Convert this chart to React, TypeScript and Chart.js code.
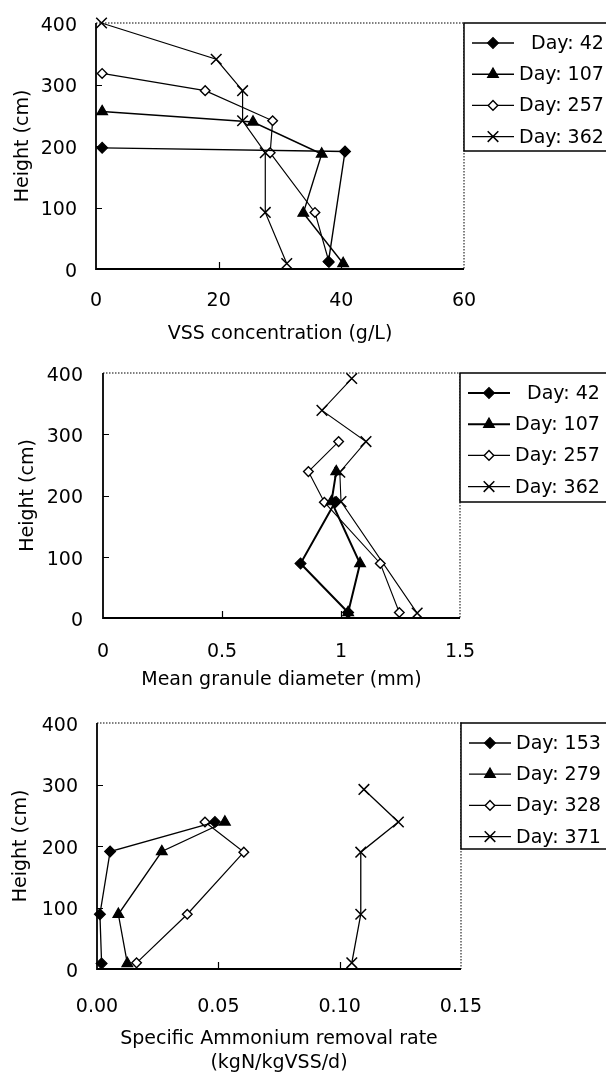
import React, { useEffect, useRef } from "react";
import { Chart, registerables } from "chart.js";
import { drawPoint } from "chart.js/helpers";

Chart.register(...registerables);

const FONT_FAMILY = "'DejaVu Sans', 'Liberation Sans', sans-serif";
const FONT_SIZE = 19;

// ---------- shared ----------
const heightTicks = [0, 100, 200, 300, 400];

// ---------- panel 1: VSS concentration ----------
const vssLabels = ["Day: 42", "Day: 107", "Day: 257", "Day: 362"];
const vssDay42X = [1.0, 40.6, 37.9];
const vssDay42H = [197, 191, 12];
const vssDay107X = [1.0, 25.6, 36.8, 33.8, 40.3];
const vssDay107H = [256, 239, 187, 91, 9];
const vssDay257X = [1.0, 17.8, 28.8, 28.4, 35.7, 38.0];
const vssDay257H = [318, 290, 241, 189, 92, 11];
const vssDay362X = [0.9, 19.6, 23.9, 23.9, 27.6, 27.6, 31.1];
const vssDay362H = [400, 341, 290, 241, 189, 92, 9];
const vssTicks = [0, 20, 40, 60];
const vssTickLabels = ["0", "20", "40", "60"];

// ---------- panel 2: mean granule diameter ----------
const diamLabels = ["Day: 42", "Day: 107", "Day: 257", "Day: 362"];
const diamDay42X = [1.03, 0.83, 0.975];
const diamDay42H = [9, 89, 189];
const diamDay107X = [1.03, 1.08, 0.96, 0.98];
const diamDay107H = [9, 89, 190, 239];
const diamDay257X = [1.245, 1.165, 0.93, 0.863, 0.99];
const diamDay257H = [9, 89, 189, 239, 288];
const diamDay362X = [1.32, 1.0, 0.995, 1.105, 0.92, 1.045];
const diamDay362H = [8, 190, 238, 288, 339, 391];
const diamTicks = [0, 0.5, 1, 1.5];
const diamTickLabels = ["0", "0.5", "1", "1.5"];

// ---------- panel 3: specific ammonium removal rate ----------
const rateLabels = ["Day: 153", "Day: 279", "Day: 328", "Day: 371"];
const rateDay153X = [0.0019, 0.0012, 0.0054, 0.0486];
const rateDay153H = [9, 89, 191, 239];
const rateDay279X = [0.0125, 0.0088, 0.0267, 0.0527];
const rateDay279H = [9, 89, 191, 239];
const rateDay328X = [0.0163, 0.0372, 0.0605, 0.0445];
const rateDay328H = [10, 89, 190, 239];
const rateDay371X = [0.105, 0.1087, 0.1087, 0.1242, 0.11];
const rateDay371H = [10, 89, 190, 239, 292];
const rateTicks = [0, 0.05, 0.1, 0.15];
const rateTickLabels = ["0.00", "0.05", "0.10", "0.15"];

// ---------- styling ----------
const seriesStyles = [
  { pointStyle: "rectRot", radius: 5.4, fill: "#000", border: 1.2 },
  { pointStyle: "triangle", radius: 6.2, fill: "#000", border: 1.2 },
  { pointStyle: "rectRot", radius: 4.8, fill: "#fff", border: 1.4 },
  { pointStyle: "crossRot", radius: 7.5, fill: "#fff", border: 1.5 },
];

type Panel = {
  labels: string[];
  xs: number[][];
  ys: number[][];
  xTicks: number[];
  xTickLabels: string[];
  xMin: number;
  xMax: number;
  xTitle: string | string[];
  canvasTop: number;
  canvasH: number;
  plotTop: number;
  plotBottom: number;
  plotLeft: number;
  plotRight: number;
  xTickPad: number;
  xTitlePad: number;
  xTitleLH: number;
  yTickPad: number;
  yTitlePad: number;
  legendHeight: number;
  lineWidths: number[];
};

const CANVAS_W = 606;

const panels: Panel[] = [
  {
    labels: vssLabels,
    xs: [vssDay42X, vssDay107X, vssDay257X, vssDay362X],
    ys: [vssDay42H, vssDay107H, vssDay257H, vssDay362H],
    xTicks: vssTicks,
    xTickLabels: vssTickLabels,
    xMin: 0,
    xMax: 60,
    xTitle: "VSS concentration (g/L)",
    canvasTop: 0,
    canvasH: 345,
    plotTop: 23,
    plotBottom: 269,
    plotLeft: 96,
    plotRight: 464,
    xTickPad: 21,
    xTitlePad: 0,
    xTitleLH: 1.2,
    yTickPad: 19,
    yTitlePad: 12,
    legendHeight: 128,
    lineWidths: [1.4, 1.4, 1.2, 1.2],
  },
  {
    labels: diamLabels,
    xs: [diamDay42X, diamDay107X, diamDay257X, diamDay362X],
    ys: [diamDay42H, diamDay107H, diamDay257H, diamDay362H],
    xTicks: diamTicks,
    xTickLabels: diamTickLabels,
    xMin: 0,
    xMax: 1.5,
    xTitle: "Mean granule diameter (mm)",
    canvasTop: 345,
    canvasH: 350,
    plotTop: 28,
    plotBottom: 273,
    plotLeft: 103,
    plotRight: 460,
    xTickPad: 23,
    xTitlePad: 4,
    xTitleLH: 1.2,
    yTickPad: 20,
    yTitlePad: 17,
    legendHeight: 129,
    lineWidths: [2, 2, 1.1, 1.1],
  },
  {
    labels: rateLabels,
    xs: [rateDay153X, rateDay279X, rateDay328X, rateDay371X],
    ys: [rateDay153H, rateDay279H, rateDay328H, rateDay371H],
    xTicks: rateTicks,
    xTickLabels: rateTickLabels,
    xMin: 0,
    xMax: 0.15,
    xTitle: ["Specific Ammonium removal rate", "(kgN/kgVSS/d)"],
    canvasTop: 695,
    canvasH: 380,
    plotTop: 28,
    plotBottom: 274,
    plotLeft: 97,
    plotRight: 461,
    xTickPad: 27,
    xTitlePad: 0,
    xTitleLH: 24 / 19,
    yTickPad: 19,
    yTitlePad: 9.6,
    legendHeight: 126,
    lineWidths: [1.3, 1.3, 1.2, 1.3],
  },
];

const framePlugin = {
  id: "frame",
  beforeDatasetsDraw(chart: any) {
    const { ctx, chartArea: a, scales } = chart;
    ctx.save();
    ctx.strokeStyle = "#555";
    ctx.lineWidth = 1.5;
    ctx.setLineDash([1.5, 1.5]);
    ctx.beginPath();
    ctx.moveTo(a.left, a.top);
    ctx.lineTo(a.right, a.top);
    ctx.lineTo(a.right, a.bottom);
    ctx.stroke();
    ctx.setLineDash([]);
    ctx.strokeStyle = "#000";
    ctx.lineWidth = 1.8;
    ctx.beginPath();
    ctx.moveTo(a.left, a.top);
    ctx.lineTo(a.left, a.bottom);
    ctx.lineTo(a.right, a.bottom);
    ctx.stroke();
    ctx.lineWidth = 1.2;
    ctx.beginPath();
    const xs = scales.x;
    xs.ticks.forEach((t: any) => {
      if (t.value <= xs.min || t.value >= xs.max) return;
      const px = Math.round(xs.getPixelForValue(t.value)) + 0.5;
      ctx.moveTo(px, a.bottom);
      ctx.lineTo(px, a.bottom - 7);
    });
    const ys = scales.y;
    ys.ticks.forEach((t: any) => {
      if (t.value <= ys.min || t.value >= ys.max) return;
      const py = Math.round(ys.getPixelForValue(t.value)) + 0.5;
      ctx.moveTo(a.left, py);
      ctx.lineTo(a.left + 6, py);
    });
    ctx.stroke();
    ctx.restore();
  },
};

const legendPlugin = {
  id: "boxLegend",
  afterDraw(chart: any) {
    const opts = chart.options.plugins.boxLegend || {};
    const { ctx, chartArea: a } = chart;
    const left = a.right;
    const top = a.top;
    const h = opts.height || 128;
    ctx.save();
    ctx.fillStyle = "#fff";
    ctx.fillRect(left, top, chart.width - left + 5, h);
    ctx.strokeStyle = "#000";
    ctx.lineWidth = 1.5;
    ctx.strokeRect(left, top, chart.width - left + 10, h);
    ctx.font = `${FONT_SIZE}px ${FONT_FAMILY}`;
    const datasets = chart.data.datasets;
    let maxW = 0;
    datasets.forEach((d: any) => {
      maxW = Math.max(maxW, ctx.measureText(d.label).width);
    });
    const textRight = left + 55 + maxW;
    datasets.forEach((d: any, i: number) => {
      const y = top + 20 + i * 31.2;
      ctx.strokeStyle = "#000";
      ctx.lineWidth = d.borderWidth;
      ctx.beginPath();
      ctx.moveTo(left + 8, y);
      ctx.lineTo(left + 50, y);
      ctx.stroke();
      ctx.fillStyle = d.pointBackgroundColor;
      ctx.strokeStyle = "#000";
      ctx.lineWidth = d.pointBorderWidth;
      drawPoint(
        ctx,
        {
          pointStyle: d.pointStyle,
          radius: d.pointRadius,
          rotation: 0,
          borderWidth: d.pointBorderWidth,
        } as any,
        left + 29,
        y
      );
      ctx.fillStyle = "#000";
      ctx.textAlign = "right";
      ctx.textBaseline = "middle";
      ctx.fillText(d.label, textRight, y + 1);
    });
    ctx.restore();
  },
};

function makeChart(canvas: HTMLCanvasElement, p: Panel) {
  const font = { family: FONT_FAMILY, size: FONT_SIZE };
  const datasets = p.labels.map((label, i) => ({
    label,
    data: p.xs[i].map((x, j) => ({ x, y: p.ys[i][j] })),
    showLine: true,
    borderColor: "#000",
    borderWidth: p.lineWidths[i],
    pointStyle: seriesStyles[i].pointStyle,
    pointRadius: seriesStyles[i].radius,
    pointBackgroundColor: seriesStyles[i].fill,
    pointBorderColor: "#000",
    pointBorderWidth: seriesStyles[i].border,
    clip: false,
    tension: 0,
  }));
  return new Chart(canvas, {
    type: "scatter",
    data: { datasets } as any,
    options: {
      animation: false,
      responsive: false,
      devicePixelRatio: 1,
      events: [],
      layout: {
        padding: { top: p.plotTop, right: CANVAS_W - p.plotRight, left: 0, bottom: 0 },
      },
      plugins: {
        legend: { display: false },
        tooltip: { enabled: false },
        boxLegend: { height: p.legendHeight },
      } as any,
      scales: {
        x: {
          type: "linear",
          min: p.xMin,
          max: p.xMax,
          afterBuildTicks: (s: any) => {
            s.ticks = p.xTicks.map((v) => ({ value: v }));
          },
          afterFit: (s: any) => {
            s.height = p.canvasH - p.plotBottom;
            s.paddingLeft = 0;
            s.paddingRight = 0;
          },
          ticks: {
            callback: (_v: any, i: number) => p.xTickLabels[i],
            color: "#000",
            font,
            padding: p.xTickPad,
            maxRotation: 0,
            autoSkip: false,
          },
          grid: { display: false, drawTicks: false },
          border: { display: false },
          title: {
            display: true,
            text: p.xTitle,
            color: "#000",
            font: { ...font, lineHeight: p.xTitleLH },
            padding: { top: 0, bottom: p.xTitlePad },
          },
        },
        y: {
          type: "linear",
          min: 0,
          max: 400,
          afterBuildTicks: (s: any) => {
            s.ticks = heightTicks.map((v) => ({ value: v }));
          },
          afterFit: (s: any) => {
            s.width = p.plotLeft;
            s.paddingTop = 0;
            s.paddingBottom = 0;
          },
          ticks: {
            callback: (v: any) => String(v),
            color: "#000",
            font,
            padding: p.yTickPad,
            labelOffset: 3,
            autoSkip: false,
          },
          grid: { display: false, drawTicks: false },
          border: { display: false },
          title: {
            display: true,
            text: "Height (cm)",
            color: "#000",
            font,
            padding: { top: p.yTitlePad, bottom: 0 },
          },
        },
      },
    } as any,
    plugins: [framePlugin, legendPlugin],
  });
}

export default function App() {
  const refs = useRef<(HTMLCanvasElement | null)[]>([]);
  useEffect(() => {
    const charts = panels.map((p, i) => makeChart(refs.current[i] as HTMLCanvasElement, p));
    return () => charts.forEach((c) => c.destroy());
  }, []);
  return (
    <div
      style={{
        position: "absolute",
        left: 0,
        top: 0,
        width: CANVAS_W,
        height: 1075,
        background: "#fff",
        overflow: "hidden",
      }}
    >
      {panels.map((p, i) => (
        <canvas
          key={i}
          ref={(el) => {
            refs.current[i] = el;
          }}
          width={CANVAS_W}
          height={p.canvasH}
          style={{ position: "absolute", left: 0, top: p.canvasTop, display: "block" }}
        />
      ))}
    </div>
  );
}
